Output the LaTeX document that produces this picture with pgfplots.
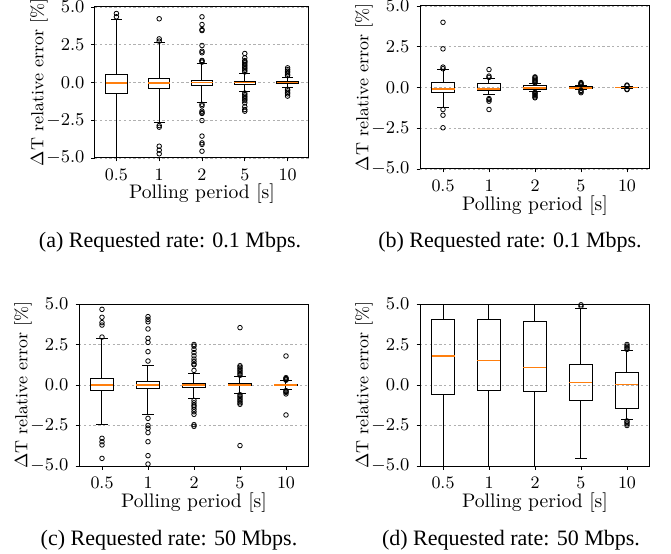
\documentclass[border=0pt]{standalone}
\usepackage{pgfplots}
\pgfplotsset{compat=1.18}
\usepgfplotslibrary{statistics}
\usepackage{fontspec}
\newfontfamily\capfont{Liberation Serif}
\definecolor{mplorange}{HTML}{FF7F0E}
\definecolor{gridgray}{HTML}{B0B0B0}

\pgfplotsset{
  errplot/.style={
    scale only axis,
    xmin=0.5, xmax=5.5, ymin=-5, ymax=5,
    xtick={1,2,3,4,5}, xticklabels={0.5,1,2,5,10},
    ytick={-5,-2.5,0,2.5,5},
    yticklabel style={/pgf/number format/fixed, /pgf/number format/fixed zerofill, /pgf/number format/precision=1},
    tick align=outside, xtick pos=bottom, ytick pos=left,
    major tick length=1.75pt,
    tick style={black, line width=0.4pt},
    axis line style={line width=0.5pt},
    ymajorgrids, grid style={gridgray, dash pattern=on 1.2pt off 1.2pt, line width=0.4pt},
    tick label style={font=\fontsize{8.75}{10.5}\selectfont},
    xlabel={Polling period [s]},
    ylabel={$\Delta$T relative error [\%]},
    every axis x label/.style={at={([yshift=-20.5pt]axis description cs:0.5,0)}, anchor=base,
      font=\fontsize{9.8}{11.5}\selectfont},
    every axis y label/.style={at={([xshift=-28pt]axis description cs:0,0.5)}, anchor=center, rotate=90,
      font=\fontsize{8.75}{10.5}\selectfont},
    boxplot/draw direction=y,
    boxplot/box extend=0.5,
    boxplot/whisker extend=0.25,
    boxplot/every median/.style={draw=mplorange, line width=0.75pt},
  },
  bp/.style={black, line width=0.5pt, mark=o, mark size=1.15pt, mark options={solid, line width=0.4pt}},
}

\begin{document}
\begin{tikzpicture}
\useasboundingbox (0,0) rectangle (335.5pt,276.5pt);

% (a)
\begin{axis}[errplot, at={(47.5pt,197.5pt)}, anchor=south west, width=107pt, height=75.5pt]
\addplot[bp, boxplot prepared={draw position=1, lower whisker=-4.95, lower quartile=-0.75, median=-0.02, upper quartile=0.55, upper whisker=4.15}]
  coordinates {(1,4.35) (1,4.57) (1,-5.02)};
\addplot[bp, boxplot prepared={draw position=2, lower whisker=-2.67, lower quartile=-0.4, median=-0.02, upper quartile=0.28, upper whisker=2.65}]
  coordinates {(2,2.74) (2,2.89) (2,4.22) (2,-2.85) (2,-2.96) (2,-4.22) (2,-4.48) (2,-4.72)};
\addplot[bp, boxplot prepared={draw position=3, lower whisker=-1.35, lower quartile=-0.18, median=0, upper quartile=0.13, upper whisker=1.24}]
  coordinates {(3,1.35) (3,1.42) (3,1.46) (3,1.97) (3,2.07) (3,2.45) (3,3.44) (3,3.5) (3,3.84) (3,4.35)
               (3,-1.45) (3,-1.55) (3,-1.9) (3,-2.0) (3,-2.05) (3,-2.52) (3,-3.55) (3,-4.0) (3,-4.1) (3,-4.55)};
\addplot[bp, boxplot prepared={draw position=4, lower whisker=-0.58, lower quartile=-0.13, median=0, upper quartile=0.08, upper whisker=0.6}]
  coordinates {(4,0.7) (4,0.8) (4,0.9) (4,1.0) (4,1.1) (4,1.2) (4,1.3) (4,1.37) (4,1.45) (4,1.63) (4,1.92)
               (4,-0.7) (4,-0.8) (4,-0.9) (4,-1.0) (4,-1.1) (4,-1.2) (4,-1.35) (4,-1.61) (4,-1.79) (4,-1.9)};
\addplot[bp, boxplot prepared={draw position=5, lower whisker=-0.35, lower quartile=-0.05, median=0, upper quartile=0.05, upper whisker=0.35}]
  coordinates {(5,0.45) (5,0.55) (5,0.65) (5,0.75) (5,0.85) (5,0.97) (5,-0.45) (5,-0.55) (5,-0.65) (5,-0.75) (5,-0.9)};
\end{axis}

% (b)
\begin{axis}[errplot, at={(210pt,192pt)}, anchor=south west, width=115pt, height=81.5pt]
\addplot[bp, boxplot prepared={draw position=1, lower whisker=-1.25, lower quartile=-0.33, median=-0.08, upper quartile=0.33, upper whisker=1.08}]
  coordinates {(1,1.15) (1,1.25) (1,2.37) (1,4.0) (1,-1.35) (1,-1.7) (1,-2.47)};
\addplot[bp, boxplot prepared={draw position=2, lower whisker=-0.43, lower quartile=-0.17, median=-0.08, upper quartile=0.25, upper whisker=0.55}]
  coordinates {(2,0.62) (2,0.7) (2,1.1) (2,-0.68) (2,-0.74) (2,-0.84) (2,-1.35)};
\addplot[bp, boxplot prepared={draw position=3, lower whisker=-0.25, lower quartile=-0.12, median=-0.02, upper quartile=0.12, upper whisker=0.22}]
  coordinates {(3,0.28) (3,0.33) (3,0.4) (3,0.45) (3,0.52) (3,0.6) (3,0.65) (3,-0.3) (3,-0.35) (3,-0.42) (3,-0.5) (3,-0.58) (3,-0.63)};
\addplot[bp, boxplot prepared={draw position=4, lower whisker=-0.12, lower quartile=-0.05, median=-0.02, upper quartile=0.05, upper whisker=0.1}]
  coordinates {(4,0.15) (4,0.2) (4,0.25) (4,0.3) (4,-0.18) (4,-0.25) (4,-0.32)};
\addplot[bp, boxplot prepared={draw position=5, lower whisker=-0.05, lower quartile=-0.02, median=0, upper quartile=0.02, upper whisker=0.05}]
  coordinates {(5,0.1) (5,0.15) (5,-0.1) (5,-0.13)};
\end{axis}

% (c)
\begin{axis}[errplot, at={(39.5pt,43.5pt)}, anchor=south west, width=115pt, height=81pt]
\addplot[bp, boxplot prepared={draw position=1, lower whisker=-2.41, lower quartile=-0.37, median=0, upper quartile=0.41, upper whisker=2.88}]
  coordinates {(1,2.96) (1,3.7) (1,3.85) (1,4.18) (1,4.67) (1,-3.29) (1,-3.5) (1,-3.7) (1,-4.53)};
\addplot[bp, boxplot prepared={draw position=2, lower whisker=-1.81, lower quartile=-0.21, median=0, upper quartile=0.21, upper whisker=1.23}]
  coordinates {(2,1.48) (2,2.06) (2,2.63) (2,2.88) (2,3.46) (2,3.9) (2,4.05) (2,4.22)
               (2,-2.06) (2,-2.5) (2,-2.67) (2,-2.94) (2,-3.5) (2,-4.36) (2,-4.88)};
\addplot[bp, boxplot prepared={draw position=3, lower whisker=-0.86, lower quartile=-0.14, median=0, upper quartile=0.1, upper whisker=0.72}]
  coordinates {(3,0.9) (3,1.25) (3,1.3) (3,1.45) (3,1.6) (3,1.8) (3,2.0) (3,2.2) (3,2.4) (3,2.5)
               (3,-0.95) (3,-1.1) (3,-1.25) (3,-1.35) (3,-1.5) (3,-1.65) (3,-1.81) (3,-2.45) (3,-2.55)};
\addplot[bp, boxplot prepared={draw position=4, lower whisker=-0.5, lower quartile=-0.06, median=0, upper quartile=0.1, upper whisker=0.5}]
  coordinates {(4,0.6) (4,0.7) (4,0.8) (4,0.9) (4,1.0) (4,1.1) (4,1.19) (4,3.54)
               (4,-0.6) (4,-0.7) (4,-0.8) (4,-0.9) (4,-1.0) (4,-1.1) (4,-1.19) (4,-3.74)};
\addplot[bp, boxplot prepared={draw position=5, lower whisker=-0.27, lower quartile=-0.04, median=0, upper quartile=0.06, upper whisker=0.25}]
  coordinates {(5,0.3) (5,0.35) (5,0.4) (5,0.45) (5,1.79) (5,-0.35) (5,-0.4) (5,-0.45) (5,-0.55) (5,-1.85)};
\end{axis}

% (d)
\begin{axis}[errplot, at={(210pt,43.5pt)}, anchor=south west, width=115pt, height=81pt]
\addplot[bp, boxplot prepared={draw position=1, lower whisker=-6, lower quartile=-0.56, median=1.79, upper quartile=4.05, upper whisker=6}]
  coordinates {};
\addplot[bp, boxplot prepared={draw position=2, lower whisker=-6, lower quartile=-0.37, median=1.5, upper quartile=4.07, upper whisker=6}]
  coordinates {};
\addplot[bp, boxplot prepared={draw position=3, lower whisker=-6, lower quartile=-0.41, median=1.09, upper quartile=3.91, upper whisker=6}]
  coordinates {};
\addplot[bp, boxplot prepared={draw position=4, lower whisker=-4.53, lower quartile=-0.95, median=0.14, upper quartile=1.28, upper whisker=4.73}]
  coordinates {(4,4.85) (4,4.95) (4,5.02)};
\addplot[bp, boxplot prepared={draw position=5, lower whisker=-2.16, lower quartile=-1.44, median=0.04, upper quartile=0.78, upper whisker=2.1}]
  coordinates {(5,2.2) (5,2.3) (5,2.4) (5,2.5) (5,-2.22) (5,-2.3) (5,-2.4) (5,-2.5)};
\end{axis}

\node[anchor=base, font=\capfont\fontsize{11}{13}\selectfont] at (85pt,152.5pt) {(a) Requested rate: 0.1 Mbps.};
\node[anchor=base, font=\capfont\fontsize{11}{13}\selectfont] at (255pt,152.5pt) {(b) Requested rate: 0.1 Mbps.};
\node[anchor=base, font=\capfont\fontsize{11}{13}\selectfont] at (84.5pt,4pt) {(c) Requested rate: 50 Mbps.};
\node[anchor=base, font=\capfont\fontsize{11}{13}\selectfont] at (255.5pt,4pt) {(d) Requested rate: 50 Mbps.};
\end{tikzpicture}
\end{document}
